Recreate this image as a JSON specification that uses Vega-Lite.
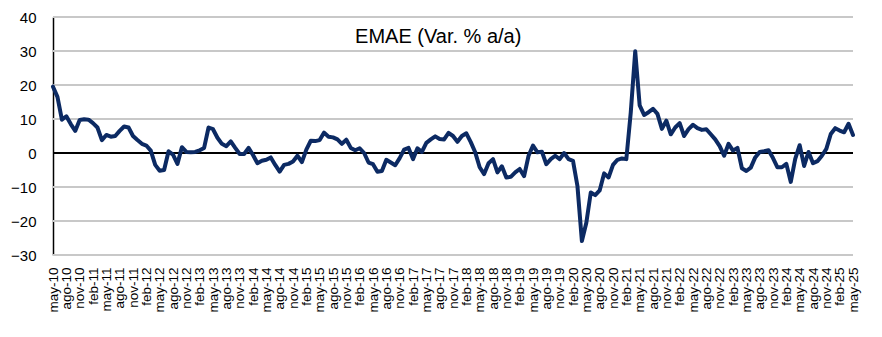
{
  "$schema": "https://vega.github.io/schema/vega-lite/v6.json",
  "width": 800,
  "height": 238,
  "autosize": "none",
  "padding": {"left": 53, "top": 17, "right": 29, "bottom": 82},
  "background": "white",
  "config": {"view": {"stroke": null}, "font": "Liberation Sans"},
  "data": {"values": [
    {"mes":"may-10","var":19.5},{"mes":"jun-10","var":16.5},{"mes":"jul-10","var":9.8},{"mes":"ago-10","var":10.8},{"mes":"sep-10","var":8.5},{"mes":"oct-10","var":6.5},{"mes":"nov-10","var":9.7},{"mes":"dic-10","var":9.9},
    {"mes":"ene-11","var":9.8},{"mes":"feb-11","var":8.8},{"mes":"mar-11","var":7.5},{"mes":"abr-11","var":3.8},{"mes":"may-11","var":5.3},{"mes":"jun-11","var":4.8},{"mes":"jul-11","var":5.0},{"mes":"ago-11","var":6.5},{"mes":"sep-11","var":7.8},{"mes":"oct-11","var":7.5},{"mes":"nov-11","var":5.0},{"mes":"dic-11","var":3.8},
    {"mes":"ene-12","var":2.7},{"mes":"feb-12","var":2.2},{"mes":"mar-12","var":0.7},{"mes":"abr-12","var":-3.5},{"mes":"may-12","var":-5.2},{"mes":"jun-12","var":-5.0},{"mes":"jul-12","var":0.5},{"mes":"ago-12","var":-0.5},{"mes":"sep-12","var":-3.2},{"mes":"oct-12","var":1.7},{"mes":"nov-12","var":0.3},{"mes":"dic-12","var":0.2},
    {"mes":"ene-13","var":0.3},{"mes":"feb-13","var":0.8},{"mes":"mar-13","var":1.5},{"mes":"abr-13","var":7.5},{"mes":"may-13","var":7.0},{"mes":"jun-13","var":4.5},{"mes":"jul-13","var":2.7},{"mes":"ago-13","var":2.0},{"mes":"sep-13","var":3.4},{"mes":"oct-13","var":1.5},{"mes":"nov-13","var":-0.3},{"mes":"dic-13","var":-0.3},
    {"mes":"ene-14","var":1.5},{"mes":"feb-14","var":-0.6},{"mes":"mar-14","var":-3.0},{"mes":"abr-14","var":-2.3},{"mes":"may-14","var":-2.0},{"mes":"jun-14","var":-1.3},{"mes":"jul-14","var":-3.5},{"mes":"ago-14","var":-5.5},{"mes":"sep-14","var":-3.5},{"mes":"oct-14","var":-3.2},{"mes":"nov-14","var":-2.5},{"mes":"dic-14","var":-0.8},
    {"mes":"ene-15","var":-2.7},{"mes":"feb-15","var":1.0},{"mes":"mar-15","var":3.6},{"mes":"abr-15","var":3.5},{"mes":"may-15","var":3.8},{"mes":"jun-15","var":6.0},{"mes":"jul-15","var":4.8},{"mes":"ago-15","var":4.6},{"mes":"sep-15","var":4.0},{"mes":"oct-15","var":2.7},{"mes":"nov-15","var":3.9},{"mes":"dic-15","var":1.5},
    {"mes":"ene-16","var":0.8},{"mes":"feb-16","var":1.4},{"mes":"mar-16","var":0.0},{"mes":"abr-16","var":-2.8},{"mes":"may-16","var":-3.3},{"mes":"jun-16","var":-5.5},{"mes":"jul-16","var":-5.3},{"mes":"ago-16","var":-2.0},{"mes":"sep-16","var":-2.8},{"mes":"oct-16","var":-3.6},{"mes":"nov-16","var":-1.5},{"mes":"dic-16","var":1.0},
    {"mes":"ene-17","var":1.5},{"mes":"feb-17","var":-1.8},{"mes":"mar-17","var":1.4},{"mes":"abr-17","var":0.3},{"mes":"may-17","var":3.0},{"mes":"jun-17","var":4.0},{"mes":"jul-17","var":4.9},{"mes":"ago-17","var":4.1},{"mes":"sep-17","var":4.0},{"mes":"oct-17","var":5.9},{"mes":"nov-17","var":5.0},{"mes":"dic-17","var":3.3},
    {"mes":"ene-18","var":5.0},{"mes":"feb-18","var":5.8},{"mes":"mar-18","var":3.2},{"mes":"abr-18","var":0.2},{"mes":"may-18","var":-4.2},{"mes":"jun-18","var":-6.2},{"mes":"jul-18","var":-3.0},{"mes":"ago-18","var":-1.8},{"mes":"sep-18","var":-5.7},{"mes":"oct-18","var":-3.9},{"mes":"nov-18","var":-7.2},{"mes":"dic-18","var":-7.0},
    {"mes":"ene-19","var":-5.7},{"mes":"feb-19","var":-4.7},{"mes":"mar-19","var":-6.8},{"mes":"abr-19","var":-0.8},{"mes":"may-19","var":2.2},{"mes":"jun-19","var":0.2},{"mes":"jul-19","var":0.4},{"mes":"ago-19","var":-3.3},{"mes":"sep-19","var":-1.8},{"mes":"oct-19","var":-0.8},{"mes":"nov-19","var":-1.8},{"mes":"dic-19","var":0.0},
    {"mes":"ene-20","var":-1.8},{"mes":"feb-20","var":-2.3},{"mes":"mar-20","var":-9.7},{"mes":"abr-20","var":-25.9},{"mes":"may-20","var":-20.5},{"mes":"jun-20","var":-11.6},{"mes":"jul-20","var":-12.4},{"mes":"ago-20","var":-11.0},{"mes":"sep-20","var":-6.0},{"mes":"oct-20","var":-7.2},{"mes":"nov-20","var":-3.5},{"mes":"dic-20","var":-2.0},
    {"mes":"ene-21","var":-1.6},{"mes":"feb-21","var":-1.8},{"mes":"mar-21","var":12.0},{"mes":"abr-21","var":29.9},{"mes":"may-21","var":14.0},{"mes":"jun-21","var":11.2},{"mes":"jul-21","var":12.0},{"mes":"ago-21","var":13.0},{"mes":"sep-21","var":11.5},{"mes":"oct-21","var":7.1},{"mes":"nov-21","var":9.5},{"mes":"dic-21","var":5.5},
    {"mes":"ene-22","var":7.5},{"mes":"feb-22","var":8.8},{"mes":"mar-22","var":5.0},{"mes":"abr-22","var":7.0},{"mes":"may-22","var":8.3},{"mes":"jun-22","var":7.3},{"mes":"jul-22","var":6.8},{"mes":"ago-22","var":7.0},{"mes":"sep-22","var":5.5},{"mes":"oct-22","var":4.0},{"mes":"nov-22","var":2.0},{"mes":"dic-22","var":-0.8},
    {"mes":"ene-23","var":2.7},{"mes":"feb-23","var":0.7},{"mes":"mar-23","var":1.5},{"mes":"abr-23","var":-4.5},{"mes":"may-23","var":-5.3},{"mes":"jun-23","var":-4.3},{"mes":"jul-23","var":-1.3},{"mes":"ago-23","var":0.3},{"mes":"sep-23","var":0.5},{"mes":"oct-23","var":0.8},{"mes":"nov-23","var":-1.5},{"mes":"dic-23","var":-4.2},
    {"mes":"ene-24","var":-4.2},{"mes":"feb-24","var":-3.2},{"mes":"mar-24","var":-8.5},{"mes":"abr-24","var":-1.7},{"mes":"may-24","var":2.3},{"mes":"jun-24","var":-3.8},{"mes":"jul-24","var":0.3},{"mes":"ago-24","var":-3.0},{"mes":"sep-24","var":-2.4},{"mes":"oct-24","var":-0.8},{"mes":"nov-24","var":1.2},{"mes":"dic-24","var":5.6},
    {"mes":"ene-25","var":7.3},{"mes":"feb-25","var":6.6},{"mes":"mar-25","var":6.1},{"mes":"abr-25","var":8.6},{"mes":"may-25","var":5.3}
  ]},
  "encoding": {
    "y": {"type": "quantitative",
      "scale": {"domain": [-30, 40], "nice": false, "zero": false},
      "axis": {"title": null, "values": [-30, -20, -10, 0, 10, 20, 30, 40], "grid": false,
        "labelOverlap": false, "labelBound": false,
        "ticks": false, "domain": true, "domainColor": "black", "domainWidth": 1.5,
        "labelPadding": 17, "labelFontSize": 15, "labelColor": "black", "labelFont": "Liberation Sans"}}
  },
  "layer": [
    {
      "data": {"values": [{"g": -30, "tipo": "grid"}, {"g": -20, "tipo": "grid"}, {"g": -10, "tipo": "grid"}, {"g": 10, "tipo": "grid"}, {"g": 20, "tipo": "grid"}, {"g": 30, "tipo": "grid"}, {"g": 40, "tipo": "grid"}, {"g": 0, "tipo": "cero"}]},
      "mark": {"type": "rule", "strokeWidth": 1.8},
      "encoding": {
        "y": {"field": "g"},
        "color": {"field": "tipo", "type": "nominal", "legend": null,
          "scale": {"domain": ["grid", "cero"], "range": ["#c8c8c8", "#000000"]}}
      }
    },
    {
      "mark": {"type": "line", "color": "#0c2a63", "strokeWidth": 4, "strokeJoin": "round", "strokeCap": "round"},
      "encoding": {
        "x": {"field": "mes", "type": "ordinal", "sort": null,
          "scale": {"type": "point", "padding": 0},
          "axis": {"title": null, "labelAngle": -90, "labelOverlap": false, "ticks": false, "domain": false, "grid": false,
            "labelPadding": 12, "labelFontSize": 13.5, "labelColor": "black", "labelFont": "Liberation Sans",
            "labelExpr": "indexof(['may','ago','nov','feb'], slice(datum.label,0,3)) >= 0 ? datum.label : ''"}},
        "y": {"field": "var"}
      }
    },
    {
      "data": {"values": [{"mes": "jul-17", "pos": 34, "t": "EMAE (Var. % a/a)"}]},
      "mark": {"type": "text", "fontSize": 20, "dx": 3, "color": "black", "baseline": "middle", "align": "center", "font": "Liberation Sans"},
      "encoding": {
        "x": {"field": "mes", "type": "ordinal", "sort": null},
        "y": {"field": "pos"},
        "text": {"field": "t"}
      }
    }
  ]
}
